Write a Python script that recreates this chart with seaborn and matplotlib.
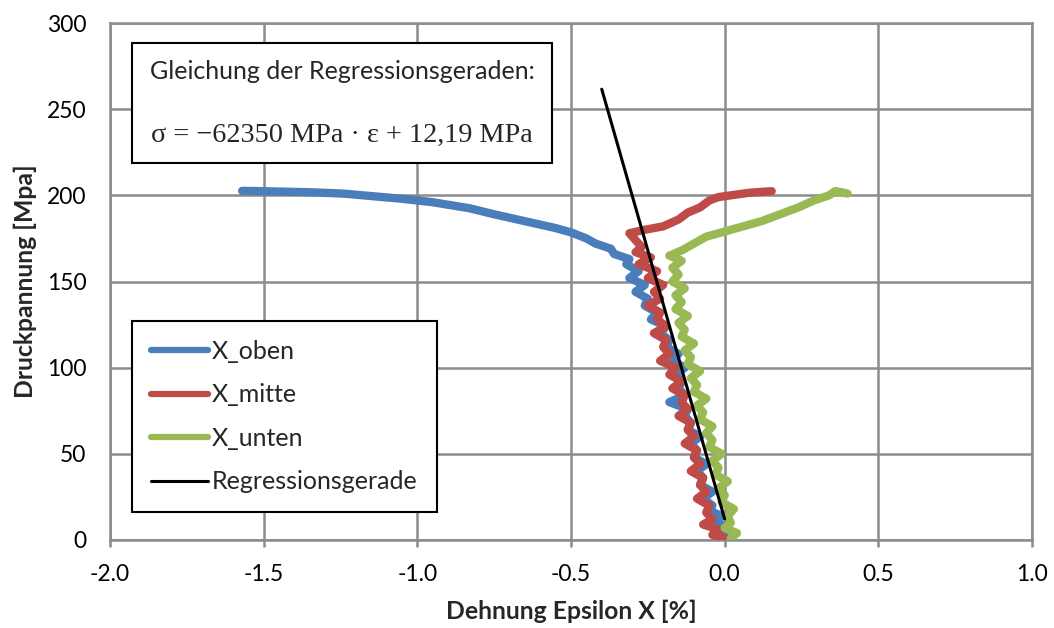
import matplotlib
matplotlib.use("Agg")
import matplotlib.pyplot as plt
import seaborn as sns
import pandas as pd
from matplotlib.patches import Rectangle

# ---- data (strain in %, stress in MPa) ----
oben_x = [0.02, 0.01, -0.02, 0.0, -0.03, -0.01, -0.05, -0.04, -0.07, -0.04, -0.08, -0.07, -0.09,
          -0.06, -0.10, -0.09, -0.11, -0.08, -0.12, -0.11, -0.13, -0.12, -0.18, -0.13, -0.15, -0.14,
          -0.16, -0.13, -0.17, -0.15, -0.19, -0.18, -0.21, -0.19, -0.24, -0.22, -0.26, -0.25, -0.29,
          -0.26, -0.31, -0.28, -0.32, -0.31, -0.36, -0.37, -0.42, -0.45, -0.50, -0.55, -0.65, -0.75,
          -0.83, -0.95, -1.05, -1.24, -1.35, -1.50, -1.57]
oben_y = [1, 3, 5, 8, 11, 14, 17, 20, 24, 28, 32, 36, 40,
          44, 48, 52, 56, 60, 64, 68, 72, 76, 80, 84, 88, 92,
          96, 100, 104, 108, 112, 116, 120, 124, 128, 132, 136, 140, 144,
          148, 152, 156, 160, 163, 166, 169, 172, 175, 178.5, 181, 185, 189,
          192.5, 196, 198, 201, 201.8, 202.4, 202.6]

mitte_x = [0.0, -0.04, -0.02, -0.07, -0.04, -0.06, -0.05, -0.09, -0.06, -0.08, -0.07, -0.11, -0.08,
           -0.10, -0.09, -0.13, -0.10, -0.12, -0.11, -0.15, -0.12, -0.14, -0.13, -0.17, -0.14, -0.18,
           -0.16, -0.21, -0.18, -0.20, -0.19, -0.23, -0.19, -0.22, -0.21, -0.25, -0.21, -0.23, -0.20,
           -0.25, -0.22, -0.28, -0.24, -0.29, -0.27, -0.29, -0.31, -0.26, -0.20, -0.15, -0.12, -0.08,
           -0.05, -0.02, 0.02, 0.08, 0.153]
mitte_y = [1, 3, 6, 9, 12, 16, 20, 24, 28, 32, 36, 40, 44,
           48, 52, 56, 60, 64, 68, 72, 76, 80, 84, 88, 92, 96,
           100, 104, 108, 112, 116, 120, 124, 128, 132, 136, 140, 144, 148,
           152, 156, 160, 164, 167, 170, 174, 178, 180, 182, 186, 190, 193,
           197, 199, 200, 201.5, 202.4]

unten_x = [0.02, 0.04, 0.0, 0.02, 0.01, 0.03, -0.01, 0.0, -0.02, 0.01, -0.03, -0.02, -0.04,
           -0.01, -0.05, -0.04, -0.06, -0.04, -0.08, -0.07, -0.09, -0.06, -0.10, -0.09, -0.11, -0.08,
           -0.12, -0.11, -0.13, -0.10, -0.14, -0.13, -0.15, -0.12, -0.16, -0.14, -0.16, -0.13, -0.17,
           -0.15, -0.17, -0.14, -0.18, -0.14, -0.10, -0.06, 0.0, 0.06, 0.12, 0.18, 0.24, 0.29,
           0.34, 0.36, 0.40]
unten_y = [1, 4, 7, 10, 14, 18, 22, 26, 30, 34, 38, 42, 46,
           50, 54, 58, 62, 66, 70, 74, 78, 82, 86, 90, 94, 98,
           102, 106, 110, 114, 118, 122, 126, 130, 134, 138, 142, 146, 150,
           154, 158, 162, 165, 168, 172, 176, 179, 182, 185, 189, 193, 197,
           200, 202.5, 201]

reg_x = [0.0, -0.40]
reg_y = [12.19, 261.6]

labels = ["X_oben", "X_mitte", "X_unten", "Regressionsgerade"]
colors = ["#4A7EBB", "#BE4B48", "#98B954", "#000000"]
x_ticks = [-2.0, -1.5, -1.0, -0.5, 0.0, 0.5, 1.0]
y_ticks = [0, 50, 100, 150, 200, 250, 300]

sns.set_style("white")
plt.rcParams['font.family'] = ['Lato', 'DejaVu Sans']
plt.rcParams['axes.unicode_minus'] = False

fig = plt.figure(figsize=(10.54, 6.28), dpi=100)
ax = fig.add_axes([110/1054, 1-540/628, (1032-110)/1054, (540-23)/628])

series = [(oben_x, oben_y), (mitte_x, mitte_y), (unten_x, unten_y), (reg_x, reg_y)]
for i, ((xs, ys), lab, col) in enumerate(zip(series, labels, colors)):
    df = pd.DataFrame({"x": xs, "y": ys})
    lw = 2.2 if i == 3 else 6.0
    sns.lineplot(data=df, x="x", y="y", sort=False, estimator=None, ax=ax,
                 color=col, lw=lw, label=lab, solid_capstyle="round", solid_joinstyle="round",
                 zorder=3 + i)

ax.set_xlim(-2.0, 1.0)
ax.set_ylim(0, 300)
ax.set_xticks(x_ticks)
ax.set_xticklabels([f"{t:.1f}" for t in x_ticks])
ax.set_yticks(y_ticks)
ax.set_yticklabels([str(t) for t in y_ticks])
ax.grid(True, color="#8C8C8C", lw=1.8)
ax.set_axisbelow(True)
for s in ax.spines.values():
    s.set_color("#8C8C8C")
    s.set_linewidth(1.8)
ax.tick_params(axis="x", labelsize=16.5, colors="#8C8C8C", labelcolor="black",
               length=5, width=1.8, direction="out", pad=12, bottom=True)
ax.tick_params(axis="y", labelsize=16.5, labelcolor="black", length=0, pad=17)
ax.set_xlabel("Dehnung Epsilon X [%]", fontsize=17.8, fontweight="bold", labelpad=11)
ax.set_ylabel("Druckpannung [Mpa]", fontsize=17.8, fontweight="bold", labelpad=7)

leg = ax.legend(loc="lower left", bbox_to_anchor=((132-110)/922, (540-512)/517),
                fontsize=18, frameon=True, fancybox=False, framealpha=1,
                edgecolor="black", handlelength=2.3, handletextpad=0.15,
                labelspacing=0.82, borderpad=0.75, borderaxespad=0)
leg.get_frame().set_linewidth(1.5)
for h in leg.get_lines()[:3]:
    h.set_linewidth(4.5)

# equation box
bx0, by0 = (132-110)/922, (540-163)/517
bw, bh = (552-132)/922, (163-43)/517
ax.add_patch(Rectangle((bx0, by0), bw, bh, transform=ax.transAxes, facecolor="white",
                       edgecolor="black", lw=1.5, zorder=10))
ax.text(bx0 + bw/2, by0 + bh*0.76, "Gleichung der Regressionsgeraden:", transform=ax.transAxes,
        ha="center", va="center", fontsize=18, zorder=11)
ax.text(bx0 + bw/2, by0 + bh*0.23, "σ = −62350 MPa · ε + 12,19 MPa", transform=ax.transAxes,
        ha="center", va="center", fontsize=20.3, zorder=11,
        family=["Liberation Serif", "DejaVu Serif"])

fig.savefig("out.png", dpi=100)
